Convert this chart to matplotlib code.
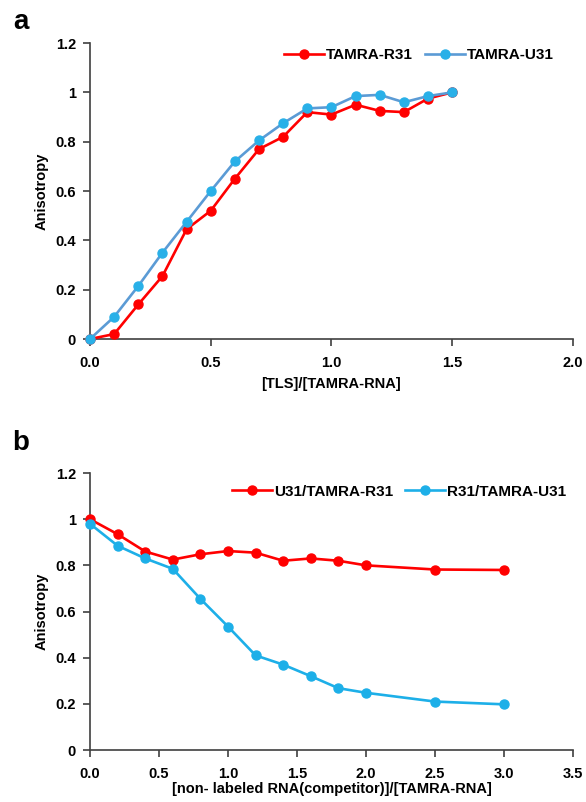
import numpy as np
import matplotlib.pyplot as plt

plt.rcParams['font.family'] = ['Liberation Sans', 'DejaVu Sans']
plt.rcParams['font.weight'] = 'bold'

# panel a: titration
tls_ratio = [0.0, 0.1, 0.2, 0.3, 0.4, 0.5, 0.6, 0.7, 0.8, 0.9, 1.0, 1.1, 1.2, 1.3, 1.4, 1.5]
tamra_r31 = [0.0, 0.02, 0.14, 0.255, 0.445, 0.52, 0.65, 0.77, 0.82, 0.92, 0.91, 0.95, 0.925, 0.92, 0.975, 1.0]
tamra_u31 = [0.0, 0.09, 0.215, 0.35, 0.475, 0.6, 0.72, 0.805, 0.875, 0.935, 0.94, 0.985, 0.99, 0.96, 0.985, 1.0]

# panel b: competition
comp_ratio = [0.0, 0.2, 0.4, 0.6, 0.8, 1.0, 1.2, 1.4, 1.6, 1.8, 2.0, 2.5, 3.0]
u31_r31 = [1.0, 0.935, 0.86, 0.825, 0.848, 0.862, 0.855, 0.82, 0.83, 0.82, 0.80, 0.782, 0.78]
r31_u31 = [0.98, 0.885, 0.83, 0.785, 0.655, 0.535, 0.41, 0.37, 0.32, 0.268, 0.248, 0.21, 0.198]

red = '#FF0000'
blue_line = '#5B9BD5'
blue_mk = '#29B0E8'
cyan = '#1DAFE8'

fig = plt.figure(figsize=(5.86, 8.02), dpi=100)
ax1 = fig.add_axes([0.1536, 0.5773, 0.824, 0.369])
ax2 = fig.add_axes([0.1536, 0.0648, 0.824, 0.3454])

def style(ax, xmax, xlabel, xpad):
    ax.set_ylim(0, 1.2)
    ax.set_xlim(0, xmax)
    ax.set_yticks([0, 0.2, 0.4, 0.6, 0.8, 1, 1.2])
    ax.set_yticklabels(['0', '0.2', '0.4', '0.6', '0.8', '1', '1.2'])
    ax.set_xticks(np.arange(0, xmax + 0.01, 0.5))
    ax.set_xticklabels(['%.1f' % v for v in np.arange(0, xmax + 0.01, 0.5)])
    for s in ['top', 'right']:
        ax.spines[s].set_visible(False)
    for s in ['left', 'bottom']:
        ax.spines[s].set_color('#404040')
        ax.spines[s].set_linewidth(1.2)
    ax.tick_params(direction='out', length=5, width=1.2, color='#404040', labelsize=10.5)
    ax.tick_params(axis='x', pad=7)
    ax.tick_params(axis='y', pad=5)
    ax.set_ylabel('Anisotropy', fontsize=10.5, fontweight='bold', labelpad=5)
    ax.set_xlabel(xlabel, fontsize=10.5, fontweight='bold', labelpad=xpad)
    for lab in ax.get_xticklabels() + ax.get_yticklabels():
        lab.set_fontweight('bold')

ax1.plot(tls_ratio, tamra_r31, '-o', color=red, lw=1.9, ms=6.5, label='TAMRA-R31', clip_on=False, zorder=3)
ax1.plot(tls_ratio, tamra_u31, '-o', color=blue_line, mfc=blue_mk, mec=blue_mk, lw=1.9, ms=6.5,
         label='TAMRA-U31', clip_on=False, zorder=4)
style(ax1, 2.0, '[TLS]/[TAMRA-RNA]', 5)
ax1.legend(loc='center', bbox_to_anchor=(0.715, 0.931), bbox_transform=fig.transFigure,
           ncol=2, frameon=False, handlelength=2.6, handletextpad=0.15,
           columnspacing=0.8, prop={'weight': 'bold', 'size': 11})

ax2.plot(comp_ratio, u31_r31, '-o', color=red, lw=1.9, ms=6.5, label='U31/TAMRA-R31', clip_on=False, zorder=3)
ax2.plot(comp_ratio, r31_u31, '-o', color=cyan, lw=1.9, ms=6.5, label='R31/TAMRA-U31', clip_on=False, zorder=4)
style(ax2, 3.5, '[non- labeled RNA(competitor)]/[TAMRA-RNA]', 1)
ax2.legend(loc='center', bbox_to_anchor=(0.681, 0.387), bbox_transform=fig.transFigure,
           ncol=2, frameon=False, handlelength=2.6, handletextpad=0.15,
           columnspacing=0.8, prop={'weight': 'bold', 'size': 11})

fig.text(0.036, 0.972, 'a', fontsize=20, fontweight='bold', ha='center', va='center')
fig.text(0.036, 0.448, 'b', fontsize=20, fontweight='bold', ha='center', va='center')

fig.savefig('out.png', dpi=100)
